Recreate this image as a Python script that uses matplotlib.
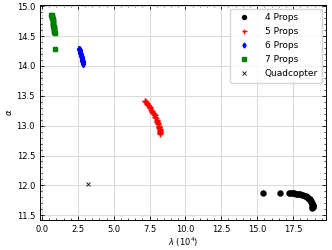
import numpy as np
import matplotlib
matplotlib.use("Agg")
import matplotlib.pyplot as plt

# data (lambda in 1e4, alpha)
x4 = [15.4, 16.6, 17.2, 17.3, 17.4, 17.5, 17.6, 17.7, 17.8, 17.9, 18.0, 18.1, 18.2,
      18.3, 18.4, 18.45, 18.5, 18.55, 18.6, 18.65, 18.7, 18.73, 18.76, 18.79, 18.82,
      18.84, 18.86, 18.87, 18.88, 18.87, 18.85, 18.83]
y4 = [11.87, 11.87, 11.87, 11.87, 11.87, 11.87, 11.865, 11.86, 11.86, 11.855, 11.85,
      11.845, 11.84, 11.83, 11.82, 11.81, 11.80, 11.79, 11.78, 11.765, 11.75, 11.735,
      11.72, 11.71, 11.69, 11.68, 11.67, 11.66, 11.65, 11.64, 11.63, 11.615]

x5 = [7.15, 7.2, 7.25, 7.3, 7.35, 7.4, 7.45, 7.5, 7.55, 7.6, 7.65, 7.7, 7.75, 7.8,
      7.85, 7.9, 7.95, 7.99, 8.02, 8.05, 8.08, 8.1, 8.13, 8.15, 8.17, 8.19, 8.2,
      8.21, 8.22, 8.23, 8.24, 8.25, 8.25]
y5 = [13.42, 13.405, 13.39, 13.375, 13.36, 13.345, 13.33, 13.31, 13.29, 13.27, 13.25,
      13.23, 13.21, 13.19, 13.17, 13.145, 13.12, 13.1, 13.08, 13.06, 13.04, 13.02,
      13.0, 12.985, 12.97, 12.955, 12.94, 12.925, 12.91, 12.9, 12.89, 12.875, 12.86]

x6 = [2.58, 2.6, 2.62, 2.64, 2.66, 2.68, 2.70, 2.72, 2.74, 2.755, 2.77, 2.785, 2.80,
      2.81, 2.82, 2.83, 2.84, 2.85, 2.86]
y6 = [14.29, 14.275, 14.26, 14.245, 14.23, 14.215, 14.20, 14.185, 14.17, 14.155,
      14.14, 14.125, 14.11, 14.10, 14.09, 14.075, 14.06, 14.05, 14.04]

x7 = [0.65, 0.68, 0.7, 0.71, 0.72, 0.73, 0.74, 0.75, 0.76, 0.77, 0.78, 0.785, 0.79,
      0.8, 0.81, 0.82, 0.83, 0.84, 0.85, 0.86, 0.87, 0.88, 0.88]
y7 = [14.86, 14.85, 14.84, 14.825, 14.81, 14.795, 14.78, 14.765, 14.75, 14.735, 14.72,
      14.705, 14.69, 14.675, 14.66, 14.645, 14.63, 14.615, 14.6, 14.585, 14.57, 14.55,
      14.28]

xq = [3.18]
yq = [12.03]

plt.rcParams['font.size'] = 6
plt.rcParams['xtick.direction'] = 'in'
plt.rcParams['ytick.direction'] = 'in'

fig, ax = plt.subplots(figsize=(3.32, 2.5), dpi=100)
fig.subplots_adjust(left=0.12, right=0.982, top=0.98, bottom=0.12)

ax.plot(x4, y4, 'o', color='black', ms=3.6, label='4 Props')
ax.plot(x5, y5, '+', color='red', ms=4.5, mew=1.0, label='5 Props')
ax.plot(x6, y6, 'd', color='blue', ms=3.2, label='6 Props')
ax.plot(x7, y7, 's', color='green', ms=3, label='7 Props')
ax.plot(xq, yq, 'x', color='black', ms=3.5, mew=0.6, label='Quadcopter')

ax.set_xlim(-0.15, 19.8)
ax.set_ylim(11.42, 15.02)
ax.set_xticks(np.arange(0, 19, 2.5))
ax.set_yticks(np.arange(11.5, 15.01, 0.5))
ax.minorticks_on()
ax.tick_params(which='both', top=True, right=True)
ax.tick_params(which='major', length=3, width=0.6)
ax.tick_params(which='minor', length=1.5, width=0.5)
for s in ax.spines.values():
    s.set_linewidth(0.7)
ax.grid(True, which='major', color='#d8d8d8', linewidth=0.7)
ax.set_axisbelow(True)

ax.set_xlabel(r'$\lambda$ ($10^4$)', labelpad=1)
ax.set_ylabel(r'$\alpha$', labelpad=2)
ax.legend(loc='upper right', fontsize=6.5, markerscale=0.8, handletextpad=1.3,
          labelspacing=0.55, borderaxespad=0.4, borderpad=0.5)

fig.savefig('out.png', dpi=100)
